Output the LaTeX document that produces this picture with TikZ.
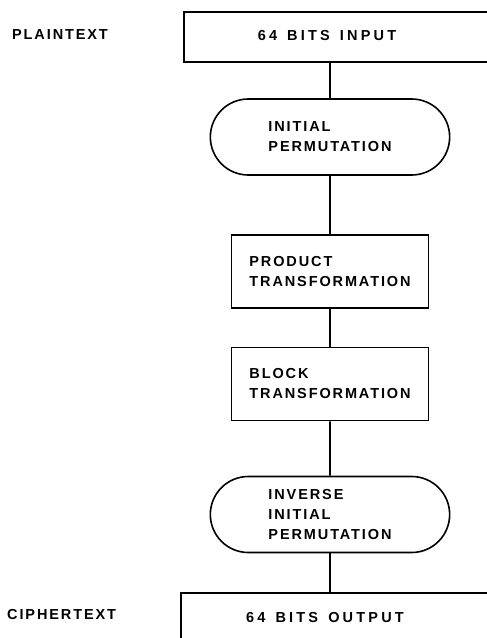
\documentclass[tikz,border=0pt]{standalone}
\usepackage{fontspec}
\newfontfamily\chartfont[LetterSpace=13]{Liberation Sans Bold}
\newfontfamily\iofont[LetterSpace=22, WordSpace=1.4]{Liberation Sans Bold}
\usetikzlibrary{shapes.misc, positioning}
\tikzset{
  block/.style={draw, line width=1.6pt, minimum width=197, minimum height=73, align=left},
  perm/.style={draw, rounded rectangle, line width=1.6pt, minimum width=246, minimum height=76, align=left},
  frame/.style={draw, line width=1.6pt, minimum width=330, minimum height=50, anchor=north west},
  io/.style={font=\iofont\fontsize{14.5}{20}\selectfont},
  tag/.style={anchor=west, inner sep=0pt},
  link/.style={line width=1.6pt}
}

\begin{document}
\begin{tikzpicture}[x=1pt, y=-1pt, font=\chartfont\fontsize{14.5}{20}\selectfont]
      \useasboundingbox (0,0) rectangle (487,638);
      \clip (0,0) rectangle (487,638);
      % Input and output
      \node[frame] (in) at (183,11) {};
      \node[io] (intext) at (327,36) {64 BITS INPUT};
      \node[tag] (plain) at (12,35) {PLAINTEXT};
      \node[frame] (out) at (180,592) {};
      \node[io] (outtext) at (325,617) {64 BITS OUTPUT};
      \node[tag] (cipher) at (7,615) {CIPHERTEXT};
      % Stages
      \node[perm] (ip) at (330,137) {INITIAL\\PERMUTATION};
      \node[block] (pt) at (330,271.5) {PRODUCT\\TRANSFORMATION};
      \node[block] (bt) at (330,384) {BLOCK\\TRANSFORMATION};
      \node[perm] (iip) at (330,514.5) {INVERSE\\INITIAL\\PERMUTATION};
      % Links
      \draw[link] (ip.north) -- (ip.north |- in.south);
      \draw[link] (ip) -- (pt);
      \draw[link] (pt) -- (bt);
      \draw[link] (bt) -- (iip);
      \draw[link] (iip.south) -- (iip.south |- out.north);
\end{tikzpicture}
\end{document}
